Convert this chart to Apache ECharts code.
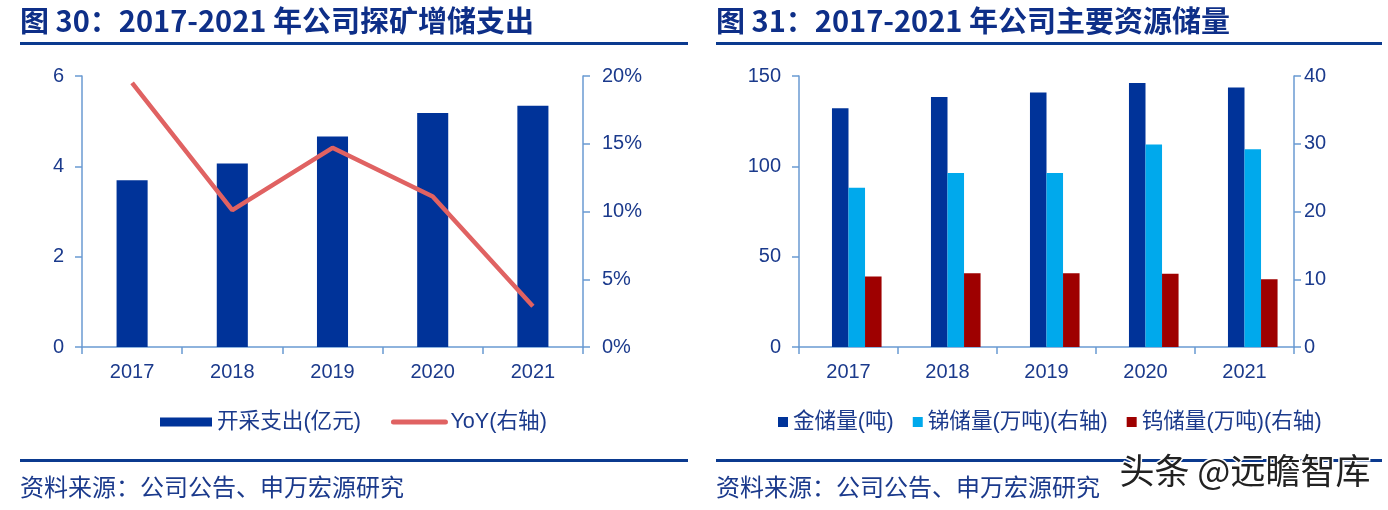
<!DOCTYPE html>
<html>
<head>
<meta charset="utf-8">
<script src="https://cdn.jsdelivr.net/npm/echarts@6/dist/echarts.min.js"></script>
<style>
html,body{margin:0;padding:0;background:#fff;}
#c{width:1388px;height:510px;}
</style>
</head>
<body>
<div id="c"></div>
<script>
// ---- data ----
const years = ['2017', '2018', '2019', '2020', '2021'];
const capex = [3.69, 4.06, 4.66, 5.18, 5.34];          // 开采支出(亿元)
const capexYoY = [19.5, 10.1, 14.7, 11.1, 3.0];        // YoY(右轴), %
const goldReserve = [132.1, 138.4, 140.8, 146.1, 143.7];   // 金储量(吨)
const antimonyReserve = [23.5, 25.7, 25.7, 29.9, 29.2];    // 锑储量(万吨)
const tungstenReserve = [10.4, 10.9, 10.9, 10.8, 10.0];    // 钨储量(万吨)
const leftTicksL = [0, 6, 2];
const leftTicksR = [0, 20, 5];
const rightTicksL = [0, 150, 50];
const rightTicksR = [0, 40, 10];

const NAVY = '#003399', RED = '#E06262', LBLUE = '#00A9EC', DRED = '#9E0000';
const TXT = '#1B3A8C', AX = '#6A9AD2', TITLE = '#0E2F88', RULE = '#0B3A8F';
const NUMFONT = '"Liberation Sans", "Noto Sans CJK SC", sans-serif';

function yAx(grid, t, fmt, pos, margin) {
  return {
    type: 'value', gridIndex: grid, position: pos, min: t[0], max: t[1], interval: t[2],
    splitLine: {show: false},
    axisLine: {show: true, lineStyle: {color: AX, width: 1.5}},
    axisTick: {show: true, length: 7, lineStyle: {color: AX, width: 1.5}},
    axisLabel: {color: TXT, fontSize: 20, fontFamily: NUMFONT, margin: margin, formatter: fmt}
  };
}
function xAx(grid) {
  return {
    type: 'category', gridIndex: grid, data: years,
    axisLine: {lineStyle: {color: AX, width: 1.5}},
    axisTick: {show: true, length: 7, lineStyle: {color: AX, width: 1.5}},
    axisLabel: {color: TXT, fontSize: 20, fontFamily: NUMFONT, margin: 15}
  };
}

const chart = echarts.init(document.getElementById('c'), null, {renderer: 'canvas'});
chart.setOption({
  animation: false,
  backgroundColor: '#fff',
  grid: [
    {left: 82, top: 76, width: 501, height: 271},
    {left: 799, top: 76, width: 495, height: 271}
  ],
  xAxis: [xAx(0), xAx(1)],
  yAxis: [
    yAx(0, leftTicksL, '{value}', 'left', 18),
    yAx(0, leftTicksR, '{value}%', 'right', 19),
    yAx(1, rightTicksL, '{value}', 'left', 18),
    yAx(1, rightTicksR, '{value}', 'right', 10)
  ],
  legend: [
    {
      left: 160, top: 410, padding: 0, itemWidth: 52, itemHeight: 9, itemGap: 30,
      data: [
        {name: '开采支出(亿元)', icon: 'rect'},
        {name: 'YoY(右轴)', itemStyle: {opacity: 0}, lineStyle: {width: 5, color: RED, cap: 'round'}}
      ],
      textStyle: {color: TXT, fontSize: 21.6, fontFamily: NUMFONT, lineHeight: 24},
      selectedMode: false
    },
    {
      left: 778, top: 410, padding: 0, itemWidth: 10, itemHeight: 10, itemGap: 19,
      data: [{name: '金储量(吨)', icon: 'rect'}, {name: '锑储量(万吨)(右轴)', icon: 'rect'}, {name: '钨储量(万吨)(右轴)', icon: 'rect'}],
      textStyle: {color: TXT, fontSize: 21.6, fontFamily: NUMFONT, lineHeight: 24},
      selectedMode: false
    }
  ],
  series: [
    {name: '开采支出(亿元)', type: 'bar', xAxisIndex: 0, yAxisIndex: 0, data: capex,
     barWidth: '31%', itemStyle: {color: NAVY}},
    {name: 'YoY(右轴)', type: 'line', xAxisIndex: 0, yAxisIndex: 1, data: capexYoY,
     symbol: 'none', lineStyle: {color: RED, width: 4.5}, itemStyle: {color: RED}},
    // empty spacer series: reproduces the original's off-centre cluster layout
    {name: 'spacer', type: 'bar', xAxisIndex: 1, yAxisIndex: 2, data: [], barWidth: '16.7%', barGap: '0%'},
    {name: '金储量(吨)', type: 'bar', xAxisIndex: 1, yAxisIndex: 2, data: goldReserve,
     barWidth: '16.7%', barGap: '0%', itemStyle: {color: NAVY}},
    {name: '锑储量(万吨)(右轴)', type: 'bar', xAxisIndex: 1, yAxisIndex: 3, data: antimonyReserve,
     barWidth: '16.7%', barGap: '0%', itemStyle: {color: LBLUE}},
    {name: '钨储量(万吨)(右轴)', type: 'bar', xAxisIndex: 1, yAxisIndex: 3, data: tungstenReserve,
     barWidth: '16.7%', barGap: '0%', itemStyle: {color: DRED}}
  ],
  graphic: [
    {type: 'text', left: 20, top: 6, style: {text: '图 30：2017-2021 年公司探矿增储支出', fill: TITLE,
      font: 'bold 29px "Noto Sans CJK SC", sans-serif'}},
    {type: 'text', left: 716, top: 6, style: {text: '图 31：2017-2021 年公司主要资源储量', fill: TITLE,
      font: 'bold 29px "Noto Sans CJK SC", sans-serif'}},
    {type: 'rect', shape: {x: 20, y: 42, width: 668, height: 3}, style: {fill: RULE}},
    {type: 'rect', shape: {x: 716, y: 42, width: 666, height: 3}, style: {fill: RULE}},
    {type: 'rect', shape: {x: 20, y: 459, width: 668, height: 3}, style: {fill: RULE}},
    {type: 'rect', shape: {x: 716, y: 459, width: 666, height: 3}, style: {fill: RULE}},
    {type: 'text', left: 20, top: 475, style: {text: '资料来源：公司公告、申万宏源研究', fill: TXT,
      font: '24px "Noto Sans CJK SC", sans-serif'}},
    {type: 'text', left: 716, top: 475, style: {text: '资料来源：公司公告、申万宏源研究', fill: TXT,
      font: '24px "Noto Sans CJK SC", sans-serif'}},
    {type: 'text', left: 1118, top: 452, z: 100, style: {text: '头条 @远瞻智库', fill: '#222',
      stroke: '#fff', lineWidth: 3, font: '35px "Noto Sans CJK SC", sans-serif'}}
  ]
});
</script>
</body>
</html>
